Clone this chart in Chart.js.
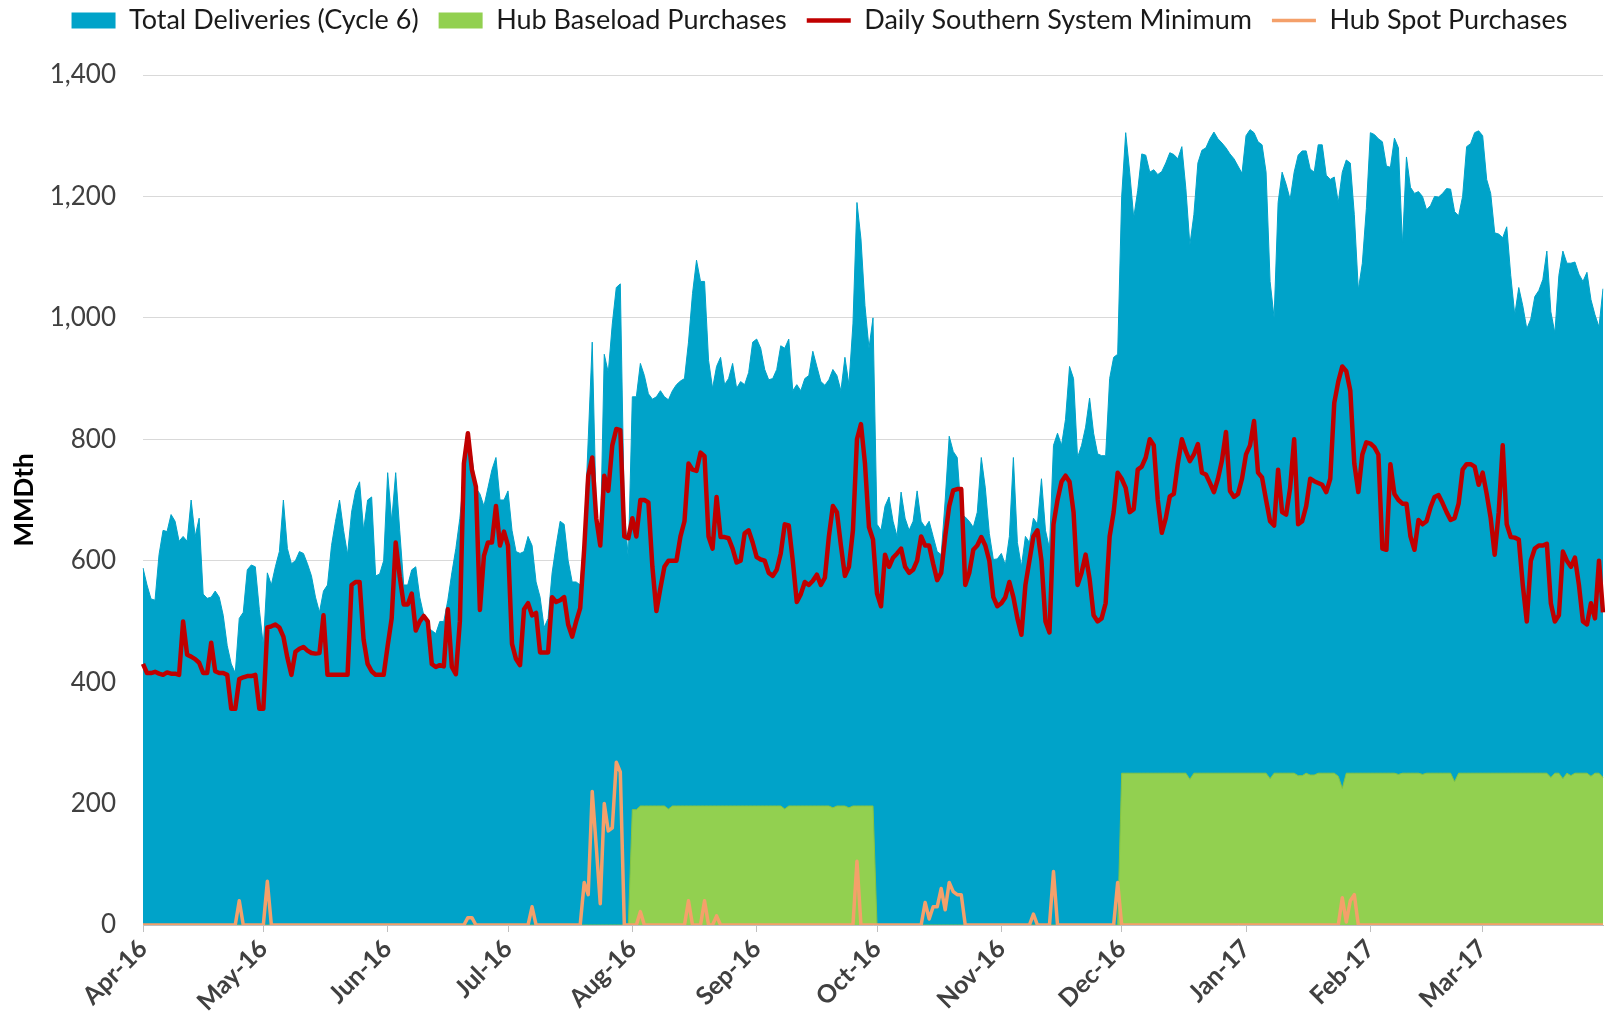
<!DOCTYPE html>
<html>
<head>
<meta charset="utf-8">
<title>Deliveries vs Southern System Minimum</title>
<script src="https://cdn.jsdelivr.net/npm/chart.js@4.4.1/dist/chart.umd.min.js"></script>
<style>
    html, body { margin: 0; padding: 0; background: #ffffff; }
    #wrap { width: 1608px; height: 1030px; position: relative; }
</style>
</head>
<body>
<div id="wrap"><canvas id="myChart"></canvas></div>
<script>
//==========================================DATA===================================//
// one point per day, Apr 1 2016 .. Mar 31 2017
var monthLabels = ["Apr-16","May-16","Jun-16","Jul-16","Aug-16","Sep-16","Oct-16","Nov-16","Dec-16","Jan-17","Feb-17","Mar-17"];
var monthDays = [30,31,30,31,31,30,31,30,31,31,28,31];
var yTicks = [0,200,400,600,800,1000,1200,1400];

var totalDeliveries = [
    588,560,537,535,610,650,648,676,665,632,640,632,700,640,670,545,538,540,550,540,510,460,430,415,505,515,585,593,590,520,
    460,580,560,590,615,700,620,595,600,615,612,595,575,540,515,550,560,625,665,700,650,610,680,715,730,650,700,705,575,578,600,
    745,665,745,650,560,560,585,590,540,510,490,485,480,500,500,535,580,620,670,740,810,770,720,710,690,720,750,770,700,700,
    715,650,615,612,615,640,625,565,540,490,505,580,625,665,660,600,565,565,560,640,800,960,680,625,940,910,990,1050,1056,680,605,
    870,870,925,905,875,866,870,880,870,865,880,890,896,900,960,1040,1095,1060,1060,930,884,920,935,890,900,925,884,895,890,910,960,
    965,950,915,898,900,915,954,950,965,880,890,880,900,905,945,920,895,889,898,915,905,880,935,890,990,1190,1130,1020,950,1000,
    660,650,690,705,665,640,713,670,650,665,715,665,655,665,640,615,610,700,805,780,770,676,672,665,655,680,770,720,645,602,603,
    612,593,640,770,630,590,640,630,670,660,735,650,620,790,810,790,833,920,900,770,790,820,868,810,776,773,773,900,935,940,
    1200,1305,1240,1165,1210,1270,1268,1240,1244,1236,1241,1255,1272,1269,1262,1282,1213,1120,1170,1255,1276,1280,1295,1306,1295,1288,1280,1270,1262,1250,1238,
    1300,1310,1305,1290,1285,1240,1060,1000,1190,1240,1220,1195,1240,1268,1275,1275,1245,1240,1285,1285,1235,1228,1232,1190,1240,1260,1255,1170,1046,1090,1180,
    1305,1302,1295,1290,1250,1248,1296,1280,1120,1265,1215,1205,1208,1200,1178,1185,1200,1199,1205,1213,1212,1175,1168,1200,1282,1287,1305,1308,
    1300,1228,1205,1140,1138,1132,1150,1070,1005,1050,1020,982,998,1035,1045,1063,1110,1010,975,1070,1110,1090,1090,1092,1072,1060,1075,1030,1005,985,1048
];

var hubBaseload = [
    0,0,0,0,0,0,0,0,0,0,0,0,0,0,0,0,0,0,0,0,0,0,0,0,0,0,0,0,0,0,
    0,0,0,0,0,0,0,0,0,0,0,0,0,0,0,0,0,0,0,0,0,0,0,0,0,0,0,0,0,0,0,
    0,0,0,0,0,0,0,0,0,0,0,0,0,0,0,0,0,0,0,0,0,0,0,0,0,0,0,0,0,0,
    0,0,0,0,0,0,0,0,0,0,0,0,0,0,0,0,0,0,0,0,0,0,0,0,0,0,0,0,0,0,0,
    190,190,196,196,196,196,196,196,196,191,196,196,196,196,196,196,196,196,196,196,196,196,196,196,196,196,196,196,196,196,196,
    196,196,196,196,196,196,196,191,196,196,196,196,196,196,196,196,196,196,196,193,196,196,196,193,196,196,196,196,196,196,
    0,0,0,0,0,0,0,0,0,0,0,0,0,0,0,0,0,0,0,0,0,0,0,0,0,0,0,0,0,0,0,
    0,0,0,0,0,0,0,0,0,0,0,0,0,0,0,0,0,0,0,0,0,0,0,0,0,0,0,0,0,0,
    250,250,250,250,250,250,250,250,250,250,250,250,250,250,250,250,250,240,250,250,250,250,250,250,250,250,250,250,250,250,250,
    250,250,250,250,250,250,241,250,250,250,250,250,250,246,246,250,247,247,250,250,250,250,250,245,225,250,250,250,250,250,250,
    250,250,250,250,250,250,250,248,250,250,250,250,250,248,250,250,250,250,250,250,250,236,250,250,250,250,250,250,
    250,250,250,250,250,250,250,250,250,250,250,250,250,250,250,250,250,243,250,250,241,250,246,250,250,250,250,245,250,250,243
];

var southernMin = [
    430,415,415,417,414,412,416,414,414,412,500,445,442,438,432,415,415,465,418,415,415,412,356,356,405,408,410,410,412,356,
    356,490,492,495,490,475,440,412,450,455,458,452,448,447,448,510,412,412,412,412,412,412,560,565,565,470,430,418,412,412,412,
    460,505,630,574,528,528,546,485,500,509,500,430,425,428,426,520,425,413,500,760,810,750,722,519,608,630,630,690,625,648,
    625,463,438,428,520,530,510,514,449,449,449,540,532,535,540,495,475,500,522,620,740,770,670,625,740,715,790,817,815,640,637,
    670,640,700,700,696,590,517,555,590,600,600,600,640,665,760,750,748,778,772,640,620,705,639,639,637,620,597,600,645,650,630,
    606,602,600,580,575,585,612,660,658,600,532,545,565,560,567,577,560,572,640,690,680,625,575,590,650,800,825,760,655,635,
    546,525,610,590,605,612,620,590,580,585,600,640,625,625,595,568,580,640,690,716,718,718,560,580,618,625,639,625,600,540,525,
    530,540,565,540,505,478,560,600,640,650,600,500,482,660,700,730,740,730,680,560,580,610,570,510,500,505,530,640,680,745,
    735,720,680,685,750,755,770,800,790,700,646,670,706,710,760,800,780,764,775,792,745,742,728,713,735,765,812,715,705,710,735,
    775,790,830,745,737,700,665,658,750,680,676,720,800,660,665,690,735,731,728,725,713,735,860,895,920,912,880,760,713,775,795,
    793,787,775,620,618,759,710,700,694,694,640,618,667,660,665,688,705,708,695,680,667,670,694,750,759,759,755,725,
    745,710,670,610,680,790,660,639,638,635,560,500,600,620,625,625,628,530,500,510,615,600,590,605,560,500,495,530,505,600,515
];

var hubSpot = [
    0,0,0,0,0,0,0,0,0,0,0,0,0,0,0,0,0,0,0,0,0,0,0,0,40,0,0,0,0,0,
    0,72,0,0,0,0,0,0,0,0,0,0,0,0,0,0,0,0,0,0,0,0,0,0,0,0,0,0,0,0,0,
    0,0,0,0,0,0,0,0,0,0,0,0,0,0,0,0,0,0,0,0,12,12,0,0,0,0,0,0,0,0,
    0,0,0,0,0,0,30,0,0,0,0,0,0,0,0,0,0,0,0,70,50,220,130,35,200,155,160,268,252,0,0,
    0,0,22,0,0,0,0,0,0,0,0,0,0,0,40,0,0,0,40,0,0,15,0,0,0,0,0,0,0,0,0,
    0,0,0,0,0,0,0,0,0,0,0,0,0,0,0,0,0,0,0,0,0,0,0,0,0,105,0,0,0,0,
    0,0,0,0,0,0,0,0,0,0,0,0,37,10,30,30,60,25,70,55,50,50,0,0,0,0,0,0,0,0,0,
    0,0,0,0,0,0,0,0,18,0,0,0,0,88,0,0,0,0,0,0,0,0,0,0,0,0,0,0,0,70,
    0,0,0,0,0,0,0,0,0,0,0,0,0,0,0,0,0,0,0,0,0,0,0,0,0,0,0,0,0,0,0,
    0,0,0,0,0,0,0,0,0,0,0,0,0,0,0,0,0,0,0,0,0,0,0,0,45,5,40,50,0,0,0,
    0,0,0,0,0,0,0,0,0,0,0,0,0,0,0,0,0,0,0,0,0,0,0,0,0,0,0,0,
    0,0,0,0,0,0,0,0,0,0,0,0,0,0,0,0,0,0,0,0,0,0,0,0,0,0,0,0,0,0,0
];

//==========================================CATEGORIES===================================//
// one category per day; only the 1st of each month gets a visible label
var dayLabels = [];
var monthStart = [];
for(var m = 0; m < monthLabels.length; m++){
    for(var d = 1; d <= monthDays[m]; d++){
        dayLabels.push(d + "-" + monthLabels[m]);
        monthStart.push(d == 1 ? monthLabels[m] : "");
    }
}

//==========================================CHART===================================//
var textColor = "#404040";
var fontFamily = "Lato, 'Open Sans', sans-serif";

// taller legend band so the plot starts where the original does,
// and the legend row nudged right a bit to sit like the original
var legendSpacer = {
    id: "legendSpacer",
    beforeInit: function(chart){
        var originalFit = chart.legend.fit;
        var originalDraw = chart.legend.draw;
        chart.legend.fit = function(){
            originalFit.bind(chart.legend)();
            this.height = 88;
        };
        chart.legend.draw = function(){
            var ctx = chart.ctx;
            ctx.save();
            ctx.translate(18, 0);
            originalDraw.bind(chart.legend)();
            ctx.restore();
        };
    }
};

new Chart("myChart", {
    type: "line",
    data: {
        labels: dayLabels,
        datasets: [{
            label: "Total Deliveries (Cycle 6)",
            data: totalDeliveries,
            backgroundColor: "#00a3c9",
            borderColor: "#00a3c9",
            borderWidth: 1,
            fill: "origin",
            pointRadius: 0,
            tension: 0,
            order: 4
        },{
            label: "Hub Baseload Purchases",
            data: hubBaseload,
            backgroundColor: "#92d050",
            borderColor: "#86c443",
            borderWidth: 1,
            fill: "origin",
            pointRadius: 0,
            tension: 0,
            order: 3
        },{
            label: "Daily Southern System Minimum",
            data: southernMin,
            borderColor: "#c00000",
            backgroundColor: "#c00000",
            borderWidth: 4.5,
            borderJoinStyle: "round",
            fill: false,
            pointRadius: 0,
            tension: 0,
            order: 2
        },{
            label: "Hub Spot Purchases",
            data: hubSpot,
            borderColor: "#f4a06a",
            backgroundColor: "#f4a06a",
            borderWidth: 3.5,
            borderJoinStyle: "round",
            fill: false,
            pointRadius: 0,
            tension: 0,
            order: 1
        }]
    },
    options: {
        responsive: true,
        maintainAspectRatio: false,
        animation: false,
        layout: { padding: { left: 0, right: 5, top: -13, bottom: 0 } },
        plugins: {
            tooltip: { enabled: false },
            legend: {
                position: "top",
                labels: {
                    usePointStyle: true,
                    pointStyleWidth: 44,
                    boxHeight: 16,
                    padding: 20,
                    color: "#1a1a1a",
                    font: { family: fontFamily, size: 27 },
                    sort: function(a, b){ return a.datasetIndex - b.datasetIndex; },
                    generateLabels: function(chart){
                        var items = Chart.defaults.plugins.legend.labels.generateLabels(chart);
                        items.forEach(function(item){
                            var ds = chart.data.datasets[item.datasetIndex];
                            item.pointStyle = ds.fill ? "rect" : "line";
                            if(ds.fill){ item.lineWidth = 0; }
                        });
                        return items;
                    }
                }
            }
        },
        scales: {
            x: {
                type: "category",
                offset: false,
                afterFit: function(scale){
                    scale.height = 105;
                    scale.paddingRight = 0;
                },
                grid: {
                    display: true,
                    drawOnChartArea: false,
                    drawTicks: true,
                    tickLength: 7,
                    offset: false,
                    color: function(ctx){
                        return monthStart[ctx.index] ? "#bfbfbf" : "rgba(0,0,0,0)";
                    }
                },
                border: { display: true, color: "#bfbfbf", width: 1 },
                ticks: {
                    autoSkip: false,
                    maxRotation: 45,
                    minRotation: 45,
                    padding: 2,
                    color: textColor,
                    font: { family: fontFamily, size: 25, weight: "bold" },
                    callback: function(value, index){ return monthStart[index]; }
                }
            },
            y: {
                min: 0,
                max: 1400,
                afterFit: function(scale){ scale.width = 143; },
                afterBuildTicks: function(scale){
                    scale.ticks = yTicks.map(function(v){ return { value: v }; });
                },
                grid: { color: "#d9d9d9", lineWidth: 1, drawTicks: false },
                border: { display: false },
                ticks: {
                    padding: 27,
                    color: textColor,
                    font: { family: fontFamily, size: 26 },
                    callback: function(value){ return value.toLocaleString("en-US"); }
                },
                title: {
                    display: true,
                    text: "MMDth",
                    color: "#000000",
                    padding: { top: 9, bottom: 0 },
                    font: { family: fontFamily, size: 26, weight: "bold" }
                }
            }
        }
    },
    plugins: [legendSpacer]
});
</script>
</body>
</html>
